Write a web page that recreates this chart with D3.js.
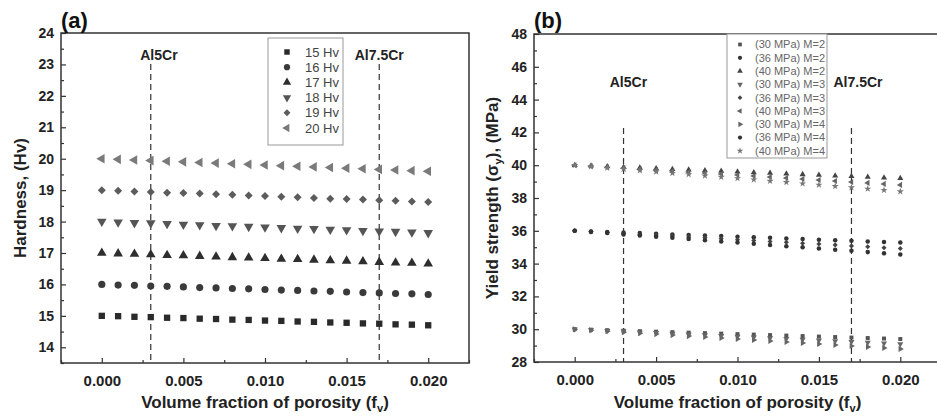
<!DOCTYPE html>
<html>
<head>
<meta charset="utf-8">
<script src="https://cdn.jsdelivr.net/npm/d3@7"></script>
<style>
  body { margin: 0; background: #fff; }
  svg { display: block; font-family: "Liberation Sans", Arial, sans-serif; }
</style>
</head>
<body>
<svg id="chart" width="937" height="416"></svg>
<script>
// porosity values shared by every series
const porosity = [0.000, 0.001, 0.002, 0.003, 0.004, 0.005, 0.006, 0.007, 0.008, 0.009, 0.010,
  0.011, 0.012, 0.013, 0.014, 0.015, 0.016, 0.017, 0.018, 0.019, 0.020];

// panel (a) hardness
const hardnessNames = ['15 Hv', '16 Hv', '17 Hv', '18 Hv', '19 Hv', '20 Hv'];
const hv15 = [15.00, 14.99, 14.97, 14.96, 14.94, 14.93, 14.91, 14.90, 14.88, 14.87, 14.85, 14.84, 14.82, 14.81, 14.79, 14.78, 14.76, 14.75, 14.73, 14.72, 14.70];
const hv16 = [16.00, 15.98, 15.97, 15.95, 15.94, 15.92, 15.90, 15.89, 15.87, 15.86, 15.84, 15.82, 15.81, 15.79, 15.78, 15.76, 15.74, 15.73, 15.71, 15.70, 15.68];
const hv17 = [17.00, 16.98, 16.97, 16.95, 16.93, 16.92, 16.90, 16.88, 16.86, 16.85, 16.83, 16.81, 16.80, 16.78, 16.76, 16.75, 16.73, 16.71, 16.69, 16.68, 16.66];
const hv18 = [18.00, 17.98, 17.96, 17.95, 17.93, 17.91, 17.89, 17.87, 17.86, 17.84, 17.82, 17.80, 17.78, 17.77, 17.75, 17.73, 17.71, 17.69, 17.68, 17.66, 17.64];
const hv19 = [19.00, 18.98, 18.96, 18.94, 18.92, 18.91, 18.89, 18.87, 18.85, 18.83, 18.81, 18.79, 18.77, 18.75, 18.73, 18.72, 18.70, 18.68, 18.66, 18.64, 18.62];
const hv20 = [20.00, 19.98, 19.96, 19.94, 19.92, 19.90, 19.88, 19.86, 19.84, 19.82, 19.80, 19.78, 19.76, 19.74, 19.72, 19.70, 19.68, 19.66, 19.64, 19.62, 19.60];

// panel (b) yield strength
const yieldNames = ['(30 MPa) M=2', '(36 MPa) M=2', '(40 MPa) M=2', '(30 MPa) M=3', '(36 MPa) M=3',
  '(40 MPa) M=3', '(30 MPa) M=4', '(36 MPa) M=4', '(40 MPa) M=4'];
const ys30m2 = [30.00, 29.97, 29.94, 29.91, 29.88, 29.85, 29.82, 29.79, 29.76, 29.73, 29.70, 29.67, 29.64, 29.61, 29.58, 29.55, 29.52, 29.49, 29.46, 29.43, 29.40];
const ys36m2 = [36.00, 35.96, 35.93, 35.89, 35.86, 35.82, 35.78, 35.75, 35.71, 35.68, 35.64, 35.60, 35.57, 35.53, 35.50, 35.46, 35.42, 35.39, 35.35, 35.32, 35.28];
const ys40m2 = [40.00, 39.96, 39.92, 39.88, 39.84, 39.80, 39.76, 39.72, 39.68, 39.64, 39.60, 39.56, 39.52, 39.48, 39.44, 39.40, 39.36, 39.32, 39.28, 39.24, 39.20];
const ys30m3 = [30.00, 29.96, 29.91, 29.87, 29.82, 29.78, 29.73, 29.69, 29.64, 29.60, 29.55, 29.51, 29.46, 29.42, 29.37, 29.33, 29.28, 29.24, 29.19, 29.15, 29.10];
const ys36m3 = [36.00, 35.95, 35.89, 35.84, 35.78, 35.73, 35.68, 35.62, 35.57, 35.51, 35.46, 35.41, 35.35, 35.30, 35.24, 35.19, 35.14, 35.08, 35.03, 34.97, 34.92];
const ys40m3 = [40.00, 39.94, 39.88, 39.82, 39.76, 39.70, 39.64, 39.58, 39.52, 39.46, 39.40, 39.34, 39.28, 39.22, 39.16, 39.10, 39.04, 38.98, 38.92, 38.86, 38.80];
const ys30m4 = [30.00, 29.94, 29.88, 29.82, 29.76, 29.70, 29.64, 29.58, 29.52, 29.46, 29.40, 29.34, 29.28, 29.22, 29.16, 29.10, 29.04, 28.98, 28.92, 28.86, 28.80];
const ys36m4 = [36.00, 35.93, 35.86, 35.78, 35.71, 35.64, 35.57, 35.50, 35.42, 35.35, 35.28, 35.21, 35.14, 35.06, 34.99, 34.92, 34.85, 34.78, 34.70, 34.63, 34.56];
const ys40m4 = [40.00, 39.92, 39.84, 39.76, 39.68, 39.60, 39.52, 39.44, 39.36, 39.28, 39.20, 39.12, 39.04, 38.96, 38.88, 38.80, 38.72, 38.64, 38.56, 38.48, 38.40];

// alloy markers (dashed lines) and tick values
const alloyNames = ['Al5Cr', 'Al7.5Cr'];
const alloyPorosity = [0.003, 0.017];
const xTicks = [0.000, 0.005, 0.010, 0.015, 0.020];
const xMinor = [-0.0025, 0.0025, 0.0075, 0.0125, 0.0175, 0.0225];
const hvTicks = [14, 15, 16, 17, 18, 19, 20, 21, 22, 23, 24];
const ysTicks = [28, 30, 32, 34, 36, 38, 40, 42, 44, 46, 48];

const svg = d3.select('#chart');

// symbol helpers
const rot = { up: 0, down: 180, left: -90, right: 90 };
function tri(dir) { return { type: d3.symbolTriangle, rotate: rot[dir] }; }
const diamond = { type: d3.symbolSquare, rotate: 45, scale: 0.8 };
const shapesA = [
  { type: d3.symbolSquare, rotate: 0 },
  { type: d3.symbolCircle, rotate: 0 },
  tri('up'), tri('down'),
  diamond,
  tri('left'),
];
const colorsA = ['#2a2a2a', '#3a3a3a', '#2e2e2e', '#555', '#5c5c5c', '#7a7a7a'];
const shapesB = [
  { type: d3.symbolSquare, rotate: 0 },
  { type: d3.symbolCircle, rotate: 0 },
  tri('up'), tri('down'),
  diamond,
  tri('left'), tri('right'),
  { type: d3.symbolCircle, rotate: 0 },
  { type: d3.symbolStar, rotate: 0 },
];
const colorsB = ['#555', '#333', '#444', '#666', '#444', '#666', '#666', '#333', '#777'];

function drawPanel(opt) {
  const { left, right, top, bottom } = opt;
  const x = d3.scaleLinear().domain([-0.0025, 0.0225]).range([left, right]);
  const y = d3.scaleLinear().domain(opt.yDomain).range([bottom, top]);
  const g = svg.append('g');

  // x axis, ticks inside
  g.append('g')
    .attr('transform', `translate(0,${bottom})`)
    .call(d3.axisBottom(x).tickValues(xTicks).tickFormat(d3.format('.3f')).tickSize(-5).tickPadding(12))
    .call((a) => a.select('.domain').remove())
    .call((a) => a.selectAll('text').attr('font-size', 15).attr('font-weight', 'bold').attr('fill', '#222').attr('font-family', 'Liberation Sans, Arial'));
  g.append('g')
    .attr('transform', `translate(0,${bottom})`)
    .call(d3.axisBottom(x).tickValues(xMinor).tickFormat('').tickSize(-3))
    .call((a) => a.select('.domain').remove());

  // y axis
  g.append('g')
    .attr('transform', `translate(${left},0)`)
    .call(d3.axisLeft(y).tickValues(opt.yTicks).tickSize(-5).tickPadding(7))
    .call((a) => a.select('.domain').remove())
    .call((a) => a.selectAll('text').attr('font-size', 14).attr('font-weight', 'bold').attr('fill', '#222').attr('font-family', 'Liberation Sans, Arial'));
  g.append('g')
    .attr('transform', `translate(${left},0)`)
    .call(d3.axisLeft(y).tickValues(opt.yMinor).tickFormat('').tickSize(-3))
    .call((a) => a.select('.domain').remove());

  g.selectAll('.tick line').attr('stroke', '#333').attr('stroke-width', 1.2);

  // frame
  g.append('rect')
    .attr('x', left).attr('y', top)
    .attr('width', right - left).attr('height', bottom - top)
    .attr('fill', 'none').attr('stroke', '#333').attr('stroke-width', 1.5);

  // dashed alloy lines
  g.selectAll('line.alloy')
    .data(alloyPorosity)
    .join('line')
    .attr('class', 'alloy')
    .attr('x1', (d) => x(d)).attr('x2', (d) => x(d))
    .attr('y1', opt.dashTop).attr('y2', bottom)
    .attr('stroke', '#333').attr('stroke-width', 1.2).attr('stroke-dasharray', '6,4');
  g.selectAll('text.alloy')
    .data(alloyNames)
    .join('text')
    .attr('class', 'alloy')
    .attr('x', (d, i) => x(opt.labelPos[i]))
    .attr('y', opt.labelY)
    .attr('text-anchor', 'middle')
    .attr('font-size', 14).attr('font-weight', 'bold').attr('fill', '#222')
    .text((d) => d);

  // series
  opt.series.forEach((vals, si) => {
    const shp = opt.shapes[si];
    const sym = d3.symbol().type(shp.type).size(opt.symSize * (shp.scale || 1));
    g.append('g')
      .selectAll('path')
      .data(porosity.map((p, i) => ({ p, v: vals[i] })))
      .join('path')
      .attr('transform', (d) => `translate(${x(d.p)},${y(d.v)}) rotate(${shp.rotate})`)
      .attr('d', sym)
      .attr('fill', opt.colors[si]);
  });

  // legend
  const lg = opt.legend;
  g.append('rect')
    .attr('x', lg.x).attr('y', lg.y).attr('width', lg.w).attr('height', lg.h)
    .attr('fill', '#fff').attr('stroke', '#999').attr('stroke-width', 1);
  opt.names.forEach((name, i) => {
    const cy = lg.firstRow + i * lg.step;
    const shp = opt.shapes[i];
    g.append('path')
      .attr('transform', `translate(${lg.x + lg.markX},${cy}) rotate(${shp.rotate})`)
      .attr('d', d3.symbol().type(shp.type).size(lg.symSize * (shp.scale || 1)))
      .attr('fill', opt.colors[i]);
    g.append('text')
      .attr('x', lg.x + lg.textX).attr('y', cy)
      .attr('dy', '0.35em')
      .attr('font-size', lg.font).attr('fill', lg.textColor)
      .text(name);
  });

  // panel label
  g.append('text')
    .attr('x', left).attr('y', 28)
    .attr('font-size', 22).attr('font-weight', 'bold').attr('fill', '#111')
    .text(opt.tag);

  // x title
  const xt = g.append('text')
    .attr('x', (x(0) + x(0.02)) / 2).attr('y', 408)
    .attr('text-anchor', 'middle')
    .attr('font-size', 17).attr('font-weight', 'bold').attr('fill', '#222');
  xt.append('tspan').text('Volume fraction of porosity (f');
  xt.append('tspan').attr('font-size', 11).attr('dy', 4).text('v');
  xt.append('tspan').attr('dy', -4).text(')');

  // y title
  const yt = g.append('text')
    .attr('transform', `translate(${opt.yTitleX},${(top + bottom) / 2}) rotate(-90)`)
    .attr('text-anchor', 'middle')
    .attr('font-size', 17).attr('font-weight', 'bold').attr('fill', '#222');
  opt.yTitle(yt);
}

drawPanel({
  tag: '(a)',
  left: 61, right: 469, top: 33, bottom: 363,
  yDomain: [13.5, 24],
  yTicks: hvTicks,
  yMinor: d3.range(13.5, 24, 1),
  dashTop: 64,
  labelPos: [0.0035, 0.017],
  labelY: 60,
  series: [hv15, hv16, hv17, hv18, hv19, hv20],
  names: hardnessNames,
  shapes: shapesA,
  colors: colorsA,
  symSize: 40,
  legend: { x: 268, y: 38, w: 75, h: 107, firstRow: 52, step: 15.2, markX: 19, textX: 37, symSize: 30, font: 13, textColor: '#444' },
  yTitleX: 26,
  yTitle: (t) => t.text('Hardness, (Hv)'),
});

drawPanel({
  tag: '(b)',
  left: 534, right: 941, top: 34, bottom: 362,
  yDomain: [28, 48],
  yTicks: ysTicks,
  yMinor: d3.range(29, 48, 2),
  dashTop: 128,
  labelPos: [0.0033, 0.0174],
  labelY: 87,
  series: [ys30m2, ys36m2, ys40m2, ys30m3, ys36m3, ys40m3, ys30m4, ys36m4, ys40m4],
  names: yieldNames,
  shapes: shapesB,
  colors: colorsB,
  symSize: 16,
  legend: { x: 727, y: 34, w: 100, h: 124, firstRow: 44.5, step: 13.3, markX: 13, textX: 28, symSize: 14, font: 11, textColor: '#666' },
  yTitleX: 498,
  yTitle: (t) => {
    t.append('tspan').text('Yield strength (σ');
    t.append('tspan').attr('font-size', 11).attr('dy', 4).text('y');
    t.append('tspan').attr('dy', -4).text('), (MPa)');
  },
});
</script>
</body>
</html>
